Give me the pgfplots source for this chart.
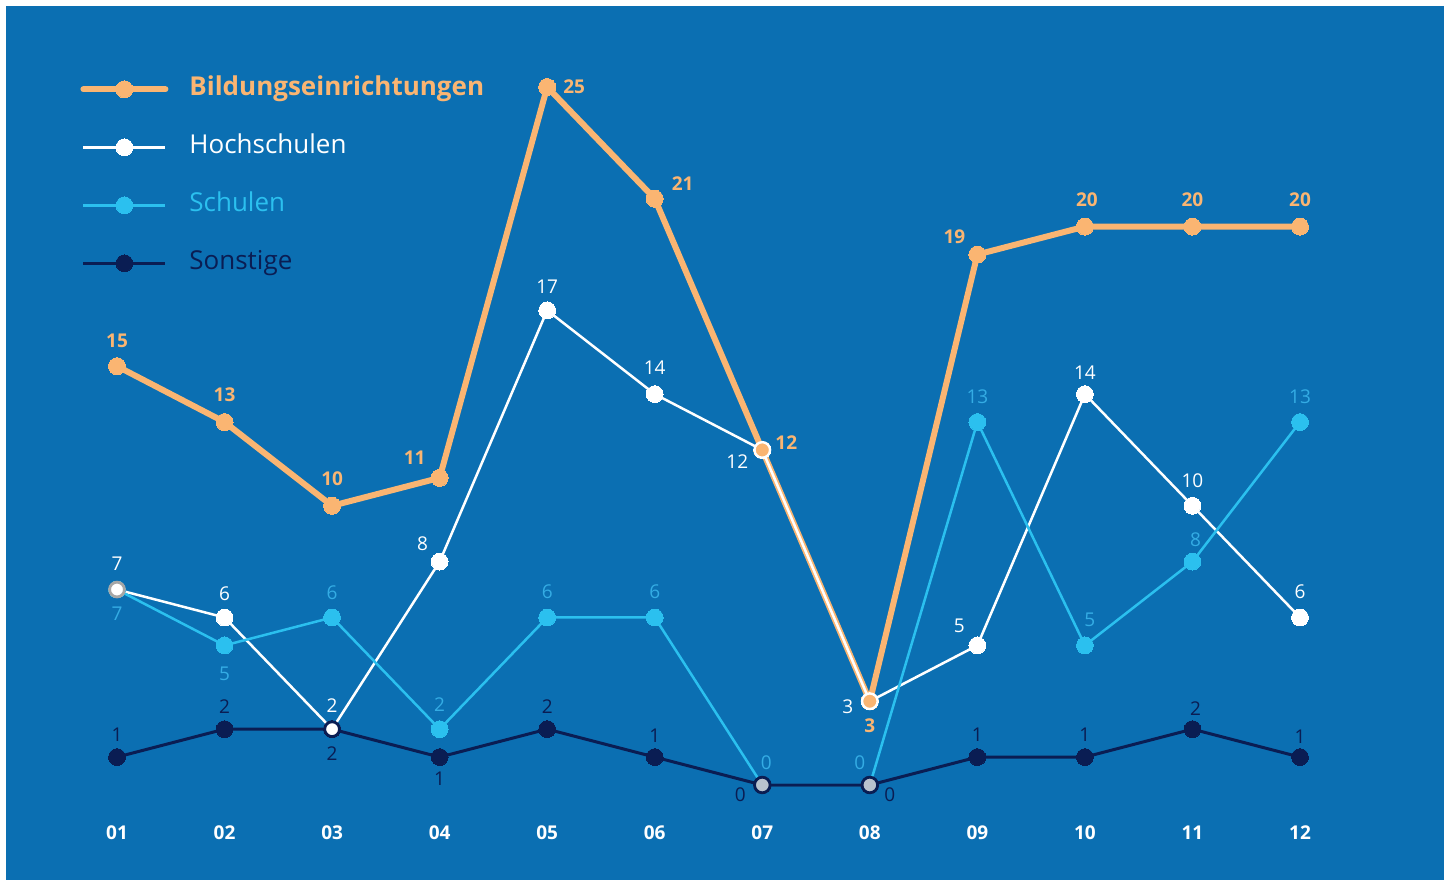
\documentclass[border=0pt]{standalone}
\usepackage{pgfplots}
\pgfplotsset{compat=1.18}
\usepackage{pgfplotstable}
\usepackage{fontspec}
\setmainfont{Open Sans}
\definecolor{bgblue}{RGB}{11,111,178}
\definecolor{orng}{RGB}{250,181,114}
\definecolor{cyn}{RGB}{43,192,239}
\definecolor{cynlbl}{RGB}{52,172,228}
\definecolor{navy}{RGB}{10,29,83}
\definecolor{gmark}{RGB}{185,194,206}

% x y dx dy  (dx, dy: label offset in pixels)
\pgfplotstableread{
x y dx dy
1 15 0 25
2 13 0 27
3 10 0 27
4 11 -25 20
5 25 27 0
6 21 28 15
7 12 24 7
8 3 0 -24
9 19 -23 18
10 20 2 27
11 20 0 27
12 20 0 27
}\tblBild
\pgfplotstableread{
x y dx dy
1 7 0 26
2 6 0 24
3 2 0 24
4 8 -17 18
5 17 0 24
6 14 0 26
7 12 -25 -12
8 3 -22 -5
9 5 -18 20
10 14 0 21
11 10 0 25
12 6 0 26
}\tblHoch
\pgfplotstableread{
x y dx dy
1 7 0 -24
2 5 0 -28
3 6 0 25
4 2 0 25
5 6 0 26
6 6 0 26
7 0 4 22
8 0 -10 22
9 13 0 25
10 5 5 26
11 8 3 22
12 13 0 25
}\tblSchul
\pgfplotstableread{
x y dx dy
1 1 0 22
2 2 0 23
3 2 0 -24
4 1 0 -22
5 2 0 23
6 1 0 21
7 0 -22 -10
8 0 20 -10
9 1 0 22
10 1 0 22
11 2 3 21
12 1 0 20
}\tblSonst

\pgfplotsset{
  lbl/.style={
    nodes near coords,
    visualization depends on={\thisrow{dx} \as \dx},
    visualization depends on={\thisrow{dy} \as \dy},
    every node near coord/.append style={anchor=center, inner sep=0pt,
      xshift=\dx*0.5bp, yshift=\dy*0.5bp, font=\fontsize{9.5bp}{11bp}\selectfont},
  },
}

\begin{document}
\begin{tikzpicture}
\fill[white] (0,0) rectangle (726.5bp,442bp);
\fill[bgblue] (3bp,2bp) rectangle (722bp,439bp);
\begin{axis}[
  at={(58.5bp,49.5bp)}, anchor=south west,
  scale only axis, width=591.5bp, height=349bp,
  xmin=1, xmax=12, ymin=0, ymax=25, clip=false,
  axis line style={draw=none},
  ytick=\empty,
  xtick={1,...,12},
  xticklabels={01,02,03,04,05,06,07,08,09,10,11,12},
  major tick length=0pt,
  xticklabel style={anchor=center, yshift=-24bp, text=white,
    font=\fontsize{9.5bp}{11bp}\selectfont\bfseries},
  /pgf/number format/assume math mode=true,
  legend cell align=left,
  legend image code/.code={\draw[mark repeat=2,mark phase=2,#1] plot coordinates {(0bp,0bp)(20.5bp,0bp)(41bp,0bp)};},
  legend style={at={(axis cs:0.656,25.38)}, anchor=north west, draw=none, fill=none,
    inner xsep=0pt, inner ysep=0pt, row sep=16.5bp,
    font=\fontsize{13bp}{15bp}\selectfont,
    nodes={inner sep=0pt, text height=9.5bp, text depth=3bp},
    /tikz/every odd column/.append style={column sep=10.5bp}},
]
\addplot[orng, line width=3bp, line cap=round, line join=round, mark=*, mark size=4.25bp,
  mark options={solid, fill=orng, draw=orng, line width=0pt},
  lbl, every node near coord/.append style={text=orng, font=\fontsize{9.5bp}{11bp}\selectfont\bfseries}]
  table[x=x,y=y] {\tblBild};
\addlegendentry{\textcolor{orng}{\bfseries Bildungseinrichtungen}}
\addplot[white, line width=1.25bp, mark=*, mark size=4.2bp,
  mark options={fill=white, draw=white, line width=0pt},
  lbl, every node near coord/.append style={text=white}]
  table[x=x,y=y] {\tblHoch};
\addlegendentry{\textcolor{white}{Hochschulen}}
\addplot[cyn, line width=1.25bp, mark=*, mark size=4.2bp,
  mark options={fill=cyn, draw=cyn, line width=0pt},
  lbl, every node near coord/.append style={text=cynlbl}]
  table[x=x,y=y] {\tblSchul};
\addlegendentry{\textcolor{cyn}{Schulen}}
\addplot[navy, line width=1.5bp, mark=*, mark size=4.2bp,
  mark options={fill=navy, draw=navy, line width=0pt},
  lbl, every node near coord/.append style={text=navy}]
  table[x=x,y=y] {\tblSonst};
\addlegendentry{\textcolor{navy}{Sonstige}}
% overlapping markers
\addplot[forget plot, only marks, mark=*, mark size=3.7bp,
  mark options={fill=white, draw=gray!70, line width=1.4bp}] coordinates {(1,7)};
\addplot[forget plot, only marks, mark=*, mark size=3.7bp,
  mark options={fill=white, draw=navy, line width=1.4bp}] coordinates {(3,2)};
\addplot[forget plot, only marks, mark=*, mark size=3.9bp,
  mark options={fill=gmark, draw=navy, line width=1.4bp}] coordinates {(7,0) (8,0)};
\addplot[forget plot, only marks, mark=*, mark size=3.9bp,
  mark options={fill=orng, draw=white, line width=1.2bp}] coordinates {(7,12) (8,3)};
\end{axis}
\end{tikzpicture}
\end{document}
